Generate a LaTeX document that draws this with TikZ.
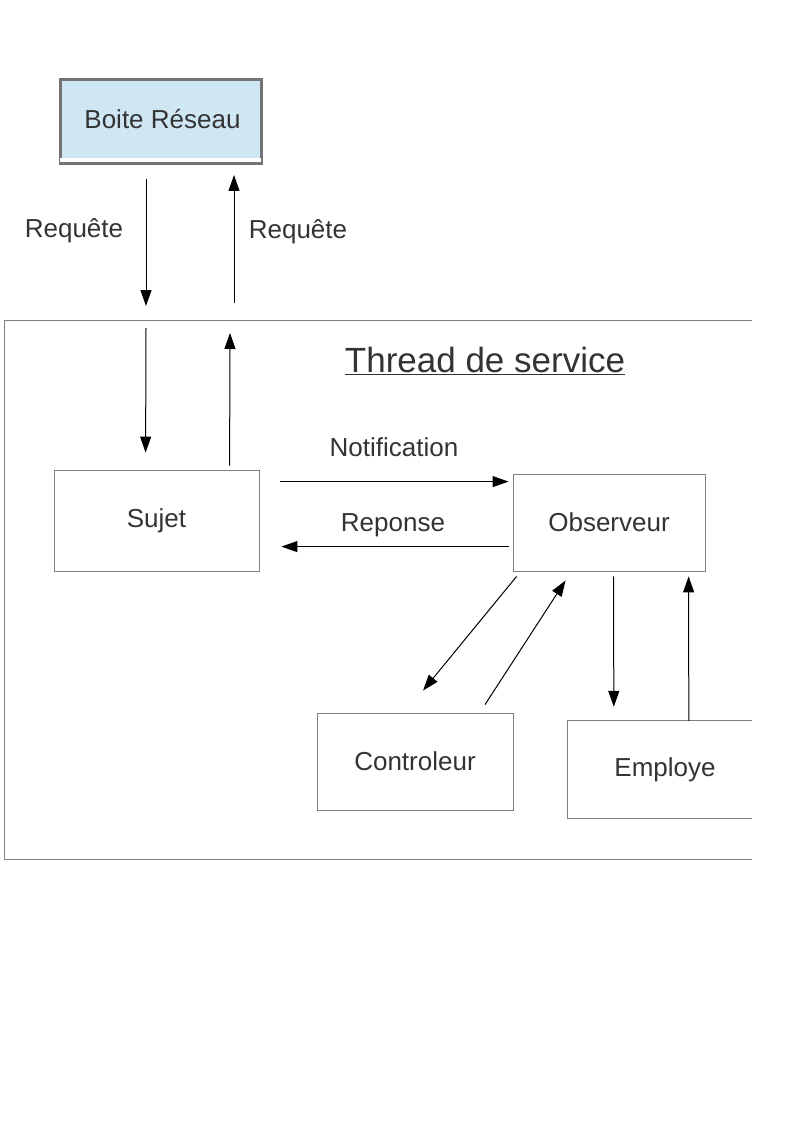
\documentclass[tikz,border=0pt]{standalone}
\usepackage{fontspec}
\setmainfont{Liberation Sans}
\usetikzlibrary{arrows.meta,calc}
\definecolor{txt}{HTML}{333333}
\definecolor{edge}{HTML}{808080}
\definecolor{boxblue}{HTML}{CFE6F3}
\begin{document}
\begin{tikzpicture}[x=1pt,y=-1pt,
  lbl/.style={text=txt,font=\fontsize{26}{30}\selectfont,inner sep=0pt},
  plainbox/.style={draw=edge,line width=0.8pt,text=txt,font=\fontsize{26}{30}\selectfont,minimum width=#1},
  arr/.style={line width=1pt,-{Triangle[length=16pt,width=11pt]}}]
\useasboundingbox (0,0) rectangle (794,1123);
% Boite Reseau
\node[draw=edge!90!black,line width=3pt,fill=boxblue,minimum width=201pt,minimum height=84pt,text=txt,font=\fontsize{26}{30}\selectfont,inner sep=0pt] (boite) at (160.5,122) {\hspace*{4pt}\raisebox{6pt}{Boite Réseau}};
\fill[white] ($(boite.south west)+(1.5,-7)$) rectangle ($(boite.south east)+(-1.5,-3)$);
% outer frame
\coordinate (fTR) at (752,320);
\coordinate (fTL) at (4,320);
\coordinate (fBL) at (4,859);
\coordinate (fBR) at (752,859);
\draw[edge,line width=0.8pt] (fTR) -- (fTL) -- (fBL) -- (fBR);
\node[lbl,font=\fontsize{35}{40}\selectfont] (title) at (485,361) {\underline{Thread de service}};
% boxes
\node[plainbox=205pt,minimum height=101pt] (sujet) at (156.5,520.5) {\raisebox{-2pt}{Sujet}};
\node[plainbox=192pt,minimum height=97pt] (obs) at (609,522.5) {Observeur};
\node[plainbox=196pt,minimum height=97pt] (ctrl) at (415,761.5) {Controleur};
\node[lbl,minimum width=184pt,minimum height=97pt] (emp) at (660,769.5) {\hspace*{10pt}\raisebox{-2pt}{Employe}};
\draw[edge,line width=0.8pt] (emp.north east) -- (emp.north west) -- (emp.south west) -- (emp.south east);
% Requete arrows outside
\coordinate (r1a) at (146,179);
\coordinate (r1b) at (146,306);
\coordinate (r2a) at (234,303);
\coordinate (r2b) at (234,175);
\draw[arr] (r1a) -- (r1b);
\draw[arr] (r2a) -- (r2b);
\node[lbl] (lq1) at (74,231) {Requête};
\node[lbl] (lq2) at (298,232) {Requête};
% inside to sujet
\coordinate (s1a) at (146,328);
\coordinate (s2b) at (230,333);
\draw[arr] (s1a) -- ($(sujet.north west)+(92,-17)$);
\draw[arr] ($(sujet.north west)+(176,-4)$) -- (s2b);
% notification / reponse
\draw[arr] ($(sujet.north east)+(21,12)$) -- ($(obs.north west)+(-4,8)$);
\draw[arr] ($(obs.north west)+(-4,73)$) -- ($(sujet.north east)+(22,77)$);
\node[lbl] (ln) at (394,447) {Notification};
\node[lbl] (lr) at (393,525) {Reponse};
% observeur - controleur
\draw[arr] ($(obs.south west)+(4,5)$) -- ($(ctrl.north)+(8,-22)$);
\draw[arr] ($(ctrl.north)+(70,-8)$) -- ($(obs.south west)+(53,9)$);
% observeur - employe
\draw[arr] ($(obs.south west)+(101,5)$) -- ($(emp.north west)+(46,-14)$);
\draw[arr] ($(emp.north west)+(121,0)$) -- ($(obs.south west)+(176,5)$);
\end{tikzpicture}
\end{document}
